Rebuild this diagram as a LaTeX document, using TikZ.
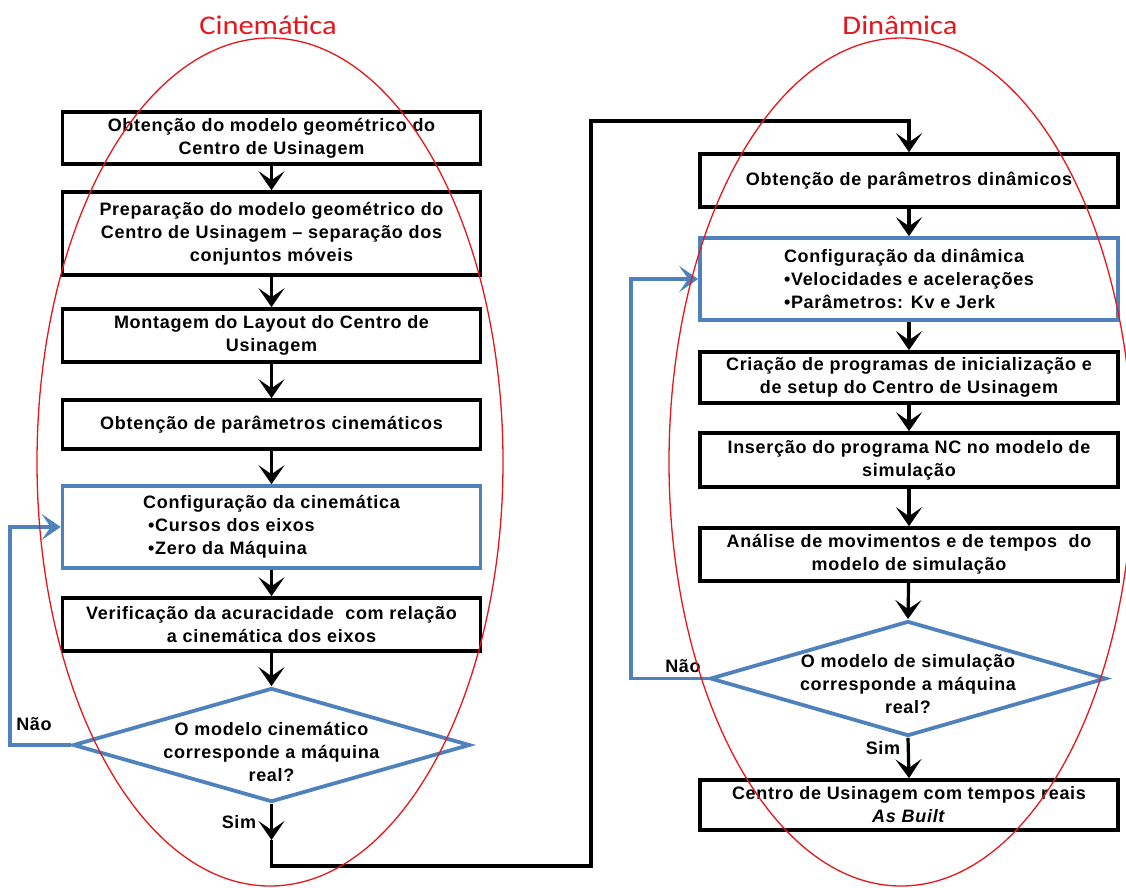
\documentclass[tikz,border=0pt]{standalone}
\usepackage{fontspec}
\setmainfont{Liberation Sans}[LetterSpace=4]
\newfontfamily\titlefont{Carlito}[FakeStretch=1.13]
\usetikzlibrary{arrows.meta,shapes.geometric}
\definecolor{flowblue}{RGB}{79,129,189}
\definecolor{zonered}{RGB}{232,22,28}
\tikzset{
  txt/.style={font=\fontsize{18}{23}\selectfont\bfseries, align=center},
  stepbox/.style={txt, draw=black, line width=3.6pt, minimum width=418pt, inner sep=0pt},
  cfgbox/.style={txt, draw=flowblue, line width=3.6pt, minimum width=418pt, inner sep=0pt, align=left},
  decision/.style={diamond, draw=flowblue, line width=3.8pt, inner sep=0pt},
  tip/.tip={Stealth[length=19pt,width=26pt,inset=9pt]},
  arr/.style={draw=black, line width=3.2pt, -tip},
  loopback/.style={draw=flowblue, line width=3.8pt, -tip},
  zone/.style={draw=zonered, line width=1.3pt},
  zonetitle/.style={text=zonered, font=\titlefont\fontsize{27}{30}\selectfont},
  lbl/.style={font=\fontsize{18}{20}\selectfont\bfseries}
}
\begin{document}
\begin{tikzpicture}[x=1pt, y=-1pt]
\useasboundingbox (0,0) rectangle (1126,887);

% ---- Cinemática column ----
\node[stepbox, minimum height=52pt] (b1) at (271.5,138)
  {Obtenção do modelo geométrico do\\Centro de Usinagem};
\node[stepbox, minimum height=83pt] (b2) at (271.5,233.5)
  {Preparação do modelo geométrico do\\Centro de Usinagem -- separação dos\\conjuntos móveis};
\node[stepbox, minimum height=53pt] (b3) at (271.5,335.5)
  {Montagem do Layout do Centro de\\Usinagem};
\node[stepbox, minimum height=49pt] (b4) at (271.5,424.5)
  {Obtenção de parâmetros cinemáticos};
\node[cfgbox, minimum height=82pt] (b5) at (271.5,527)
  {Configuração da cinemática\\\hspace*{5pt}•Cursos dos eixos\\\hspace*{5pt}•Zero da Máquina};
\node[stepbox, minimum height=53pt] (b6) at (271.5,624.5)
  {Verificação da acuracidade\ \ com relação\\a cinemática dos eixos};
\node[decision, minimum width=397pt, minimum height=114pt] (d1) at (271.5,745) {};
\node[txt] (q1) at ([yshift=-7pt]d1.center)
  {O modelo cinemático\\corresponde a máquina\\real?};

% ---- Dinâmica column ----
\node[stepbox, minimum height=53pt] (b7) at (909,180.5)
  {Obtenção de parâmetros dinâmicos};
\node[cfgbox, minimum height=82pt] (b8) at (909,279)
  {Configuração da dinâmica\\•Velocidades e acelerações\\•Parâmetros: Kv e Jerk};
\node[stepbox, minimum height=51pt] (b9) at (909,377.5)
  {Criação de programas de inicialização e\\de setup do Centro de Usinagem};
\node[stepbox, minimum height=54pt] (b10) at (909,460)
  {Inserção do programa NC no modelo de\\simulação};
\node[stepbox, minimum height=53pt] (b11) at (909,554.5)
  {Análise de movimentos e de tempos\ \ do\\modelo de simulação};
\node[decision, minimum width=396pt, minimum height=115pt] (d2) at (908,678.5) {};
\node[txt] (q2) at ([yshift=-6pt]d2.center)
  {O modelo de simulação\\corresponde a máquina\\real?};
\node[stepbox, minimum height=50pt] (b12) at (909,805)
  {Centro de Usinagem com tempos reais\\\textit{As Built}};

% ---- branch labels ----
\node[lbl] (n1) at (34,724) {Não};
\node[lbl] (s1l) at (239,822) {Sim};
\node[lbl] (n2) at (683,666) {Não};
\node[lbl] (s2l) at (883,748) {Sim};

% ---- connector way points ----
\coordinate (l1) at (10,0);
\coordinate (l2) at (631,0);
\coordinate (s1) at (271.5,840);
\coordinate (c1) at (591,866);
\coordinate (c2) at (591,121);

% ---- connectors ----
\draw[arr] (b1) -- (b2);
\draw[arr] (b2) -- (b3);
\draw[arr] (b3) -- (b4);
\draw[arr] (b4) -- (b5);
\draw[arr] (b5) -- (b6);
\draw[arr] (b6) -- (d1.north);
\draw[arr] (d1.south) -- (s1);
\draw[arr] (s1) |- (c1) -- (c2) -| (b7.north);
\draw[loopback] (d1.west) -- (d1.west -| l1) |- (b5.west);

\draw[arr] (b7) -- (b8);
\draw[arr] (b8) -- (b9);
\draw[arr] (b9) -- (b10);
\draw[arr] (b10) -- (b11);
\draw[arr] (b11) -- (d2.north);
\draw[arr] (d2.south) -- (b12.north);
\draw[loopback] (d2.west) -- (d2.west -| l2) |- (b8.west);

% ---- the two zones ----
\draw[zone] (270,462) ellipse [x radius=233pt, y radius=424pt];
\draw[zone] (901,462) ellipse [x radius=232pt, y radius=424pt];
\node[zonetitle] (t1) at (268,25) {Cinemática};
\node[zonetitle] (t2) at (900,25) {Dinâmica};
\end{tikzpicture}
\end{document}
